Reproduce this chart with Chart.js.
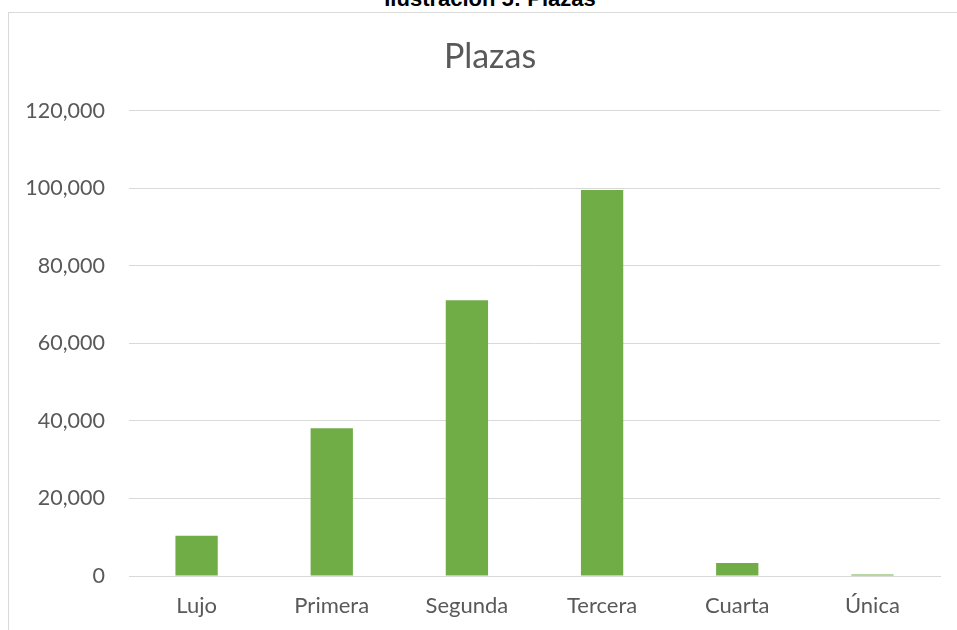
<!DOCTYPE html>
<html>
<head>
<meta charset="utf-8">
<script src="https://cdn.jsdelivr.net/npm/chart.js@4.4.0/dist/chart.umd.min.js"></script>
<style>
  body { margin:0; background:#fff; width:957px; height:630px; overflow:hidden; position:relative; }
  #caption { position:absolute; left:0; width:980px; top:-14px; text-align:center;
             font-family:"Liberation Sans", Arial, sans-serif; font-weight:bold; font-size:22px; line-height:26px; color:#000; }
  #box { position:absolute; left:8px; top:12px; width:964px; height:630px; border:1px solid #d9d9d9; box-sizing:border-box; }
  #wrap { position:absolute; left:8px; top:12px; width:964px; height:618px; }
</style>
</head>
<body>
<div id="caption">Ilustración 5: Plazas</div>
<div id="box"></div>
<div id="wrap"><canvas id="barChart"></canvas></div>
<script>
  // datos
  let categorias = ["Lujo", "Primera", "Segunda", "Tercera", "Cuarta", "Única"]
  let plazas = [10400, 38100, 71150, 99600, 3350, 400]
  let ejeMax = 120000, ejePaso = 20000

  let gris = '#595959'
  let ctx = document.getElementById('barChart').getContext('2d');

  // el titulo va centrado en el recuadro, no en el area sin el margen derecho
  let centrarTitulo = {
    id: 'centrarTitulo',
    afterLayout: function (chart) {
      if (chart.titleBlock) chart.titleBlock.left += 32
    }
  }

  let myChart = new Chart(ctx, {
    type: 'bar',
    data: {
      labels: categorias,
      datasets: [{
        label: 'Plazas',
        data: plazas,
        backgroundColor: '#70AD47',
        borderWidth: 0,
        barPercentage: 0.313,
        categoryPercentage: 1
      }]
    },
    options: {
      responsive: true,
      maintainAspectRatio: false,
      animation: false,
      layout: { padding: { left: 0, right: 32, top: 0, bottom: 0 } },
      plugins: {
        legend: { display: false },
        tooltip: { enabled: false },
        title: {
          display: true,
          text: 'Plazas',
          color: gris,
          font: { family: 'Lato', size: 34, weight: 'normal' },
          padding: { top: 25, bottom: 33 }
        }
      },
      scales: {
        x: {
          grid: { display: false, drawTicks: false },
          border: { color: '#d9d9d9', width: 1 },
          ticks: { color: gris, font: { family: 'Lato', size: 22 }, padding: 17 },
          afterFit: function (scale) { scale.height = 54 }
        },
        y: {
          min: 0,
          max: ejeMax,
          ticks: {
            stepSize: ejePaso,
            color: gris,
            font: { family: 'Lato', size: 21.5 },
            padding: 24,
            callback: function (v) { return v.toLocaleString('en-US') }
          },
          grid: { color: '#d9d9d9', lineWidth: 1, drawTicks: false },
          border: { display: false },
          afterFit: function (scale) { scale.width = 121 }
        }
      }
    },
    plugins: [centrarTitulo]
  });
</script>
</body>
</html>
